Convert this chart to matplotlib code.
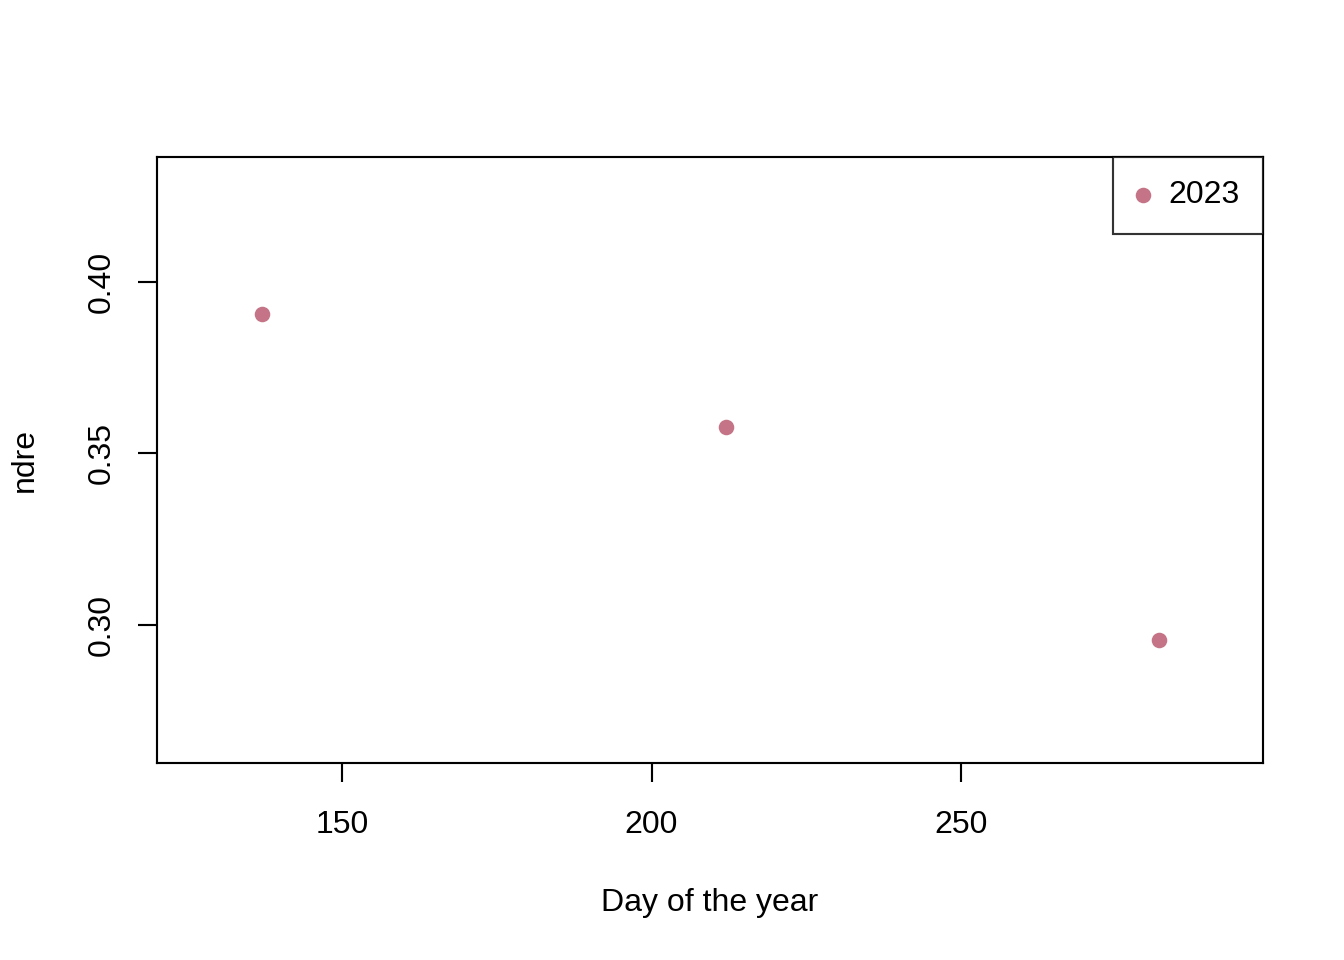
import matplotlib.pyplot as plt

plt.rcParams['font.family'] = ['Liberation Sans', 'DejaVu Sans']

day = [137, 212, 282]
ndre = [0.3907, 0.3577, 0.2956]
year_label = '2023'
pt_color = '#c47486'

fig = plt.figure(figsize=(7, 5), dpi=192)
ax = fig.add_axes([157/1344, 1 - 763/960, (1263-157)/1344, (763-157)/960])

ax.scatter(day, ndre, s=34, color=pt_color, label=year_label, linewidths=0)

ax.set_xlim(120.1, 298.8)
ax.set_ylim(0.2598, 0.4364)
ax.set_xticks([150, 200, 250])
ax.set_yticks([0.30, 0.35, 0.40])
ax.set_yticklabels(['0.30', '0.35', '0.40'], rotation=90, va='center')
ax.tick_params(labelsize=12, length=7, width=0.8)
ax.tick_params(axis='x', pad=10.5)
ax.tick_params(axis='y', pad=8)
for sp in ax.spines.values():
    sp.set_linewidth(0.8)

ax.set_xlabel('Day of the year', fontsize=12, labelpad=18)
ax.set_ylabel('ndre', fontsize=12, labelpad=17.5)

leg = ax.legend(loc='upper right', borderaxespad=0, fancybox=False,
                edgecolor='black', fontsize=12, handletextpad=0.6,
                borderpad=0.73, handlelength=0.4, markerscale=1.0)
leg.get_frame().set_linewidth(0.8)

fig.savefig('out.png', dpi=192)
